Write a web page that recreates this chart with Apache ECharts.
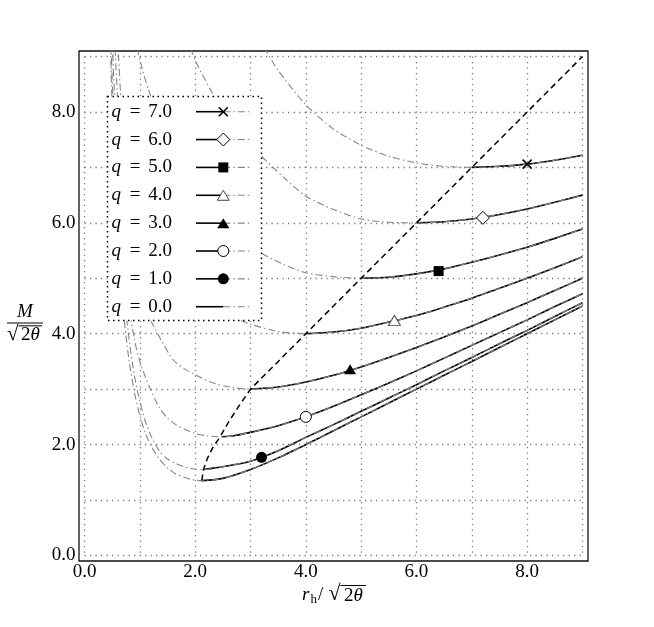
<!DOCTYPE html>
<html><head><meta charset="utf-8">
<script src="https://cdn.jsdelivr.net/npm/echarts@6/dist/echarts.min.js"></script>
<style>html,body{margin:0;padding:0;background:#fff}#c{width:654px;height:627px}</style>
</head><body><div id="c"></div><script>
// ---------------- data ----------------
const qValues = [7, 6, 5, 4, 3, 2, 1, 0];
const curveQ7 = [[3.25,9.16],[3.5,8.75],[4.0,8.13],[4.5,7.69],[5.0,7.4],[5.5,7.2],[6.0,7.08],[6.5,7.02],[7.0,7.0],[7.5,7.02],[8.0,7.06],[8.5,7.13],[9.0,7.22]];
const curveQ6 = [[1.92,9.15],[2.0,8.93],[2.3,8.36],[2.7,7.75],[3.2,7.2],[3.6,6.82],[4.0,6.48],[4.5,6.24],[5.0,6.07],[5.5,6.01],[6.0,6.0],[6.5,6.02],[7.0,6.07],[7.5,6.15],[8.0,6.25],[8.5,6.37],[9.0,6.5]];
const curveQ5 = [[0.95,9.15],[1.05,8.75],[1.15,8.42],[1.4,7.75],[1.8,6.95],[2.2,6.35],[2.7,5.8],[3.2,5.45],[3.6,5.25],[4.0,5.1],[4.5,5.03],[5.0,5.0],[5.5,5.02],[6.0,5.08],[6.5,5.17],[7.0,5.29],[7.5,5.42],[8.0,5.56],[8.5,5.72],[9.0,5.89]];
const curveQ4 = [[0.6,9.3],[0.66,8.2],[0.75,7.3],[0.9,6.4],[1.1,5.7],[1.4,5.1],[1.8,4.7],[2.2,4.45],[2.5,4.33],[2.8,4.25],[3.0,4.17],[3.5,4.04],[4.0,4.0],[4.5,4.03],[5.0,4.1],[5.5,4.21],[6.0,4.33],[6.5,4.48],[7.0,4.64],[7.5,4.82],[8.0,5.0],[8.5,5.19],[9.0,5.39]];
const curveQ3 = [[0.54,9.4],[0.6,8.2],[0.7,6.9],[0.8,6.0],[0.9,5.3],[1.0,4.8],[1.1,4.45],[1.21,4.21],[1.4,3.86],[1.6,3.53],[1.8,3.37],[2.0,3.26],[2.25,3.14],[2.5,3.06],[2.75,3.02],[3.0,3.0],[3.5,3.04],[4.0,3.13],[4.5,3.25],[5.0,3.4],[5.5,3.57],[6.0,3.75],[6.5,3.94],[7.0,4.14],[7.5,4.35],[8.0,4.56],[8.5,4.78],[9.0,5.0]];
const curveQ2 = [[0.5,9.3],[0.55,8.1],[0.6,7.1],[0.7,5.6],[0.8,4.55],[0.9,3.9],[1.0,3.5],[1.1,3.22],[1.2,2.98],[1.35,2.67],[1.5,2.48],[1.65,2.36],[1.8,2.28],[2.0,2.2],[2.2,2.16],[2.48,2.14],[2.7,2.16],[3.0,2.22],[3.5,2.34],[4.0,2.5],[4.5,2.69],[5.0,2.9],[5.5,3.11],[6.0,3.33],[6.5,3.56],[7.0,3.79],[7.5,4.02],[8.0,4.25],[8.5,4.49],[9.0,4.72]];
const curveQ1 = [[0.47,9.5],[0.5,8.6],[0.6,6.25],[0.7,4.9],[0.8,3.95],[0.9,3.25],[1.0,2.78],[1.1,2.42],[1.2,2.16],[1.35,1.89],[1.5,1.74],[1.65,1.66],[1.8,1.6],[1.95,1.565],[2.15,1.55],[2.5,1.6],[3.0,1.70],[3.5,1.89],[4.0,2.13],[4.5,2.36],[5.0,2.6],[5.5,2.84],[6.0,3.08],[6.5,3.33],[7.0,3.57],[7.5,3.82],[8.0,4.06],[8.5,4.31],[9.0,4.56]];
const curveQ0 = [[0.46,9.45],[0.5,8.09],[0.6,5.81],[0.7,4.44],[0.8,3.55],[0.9,2.95],[1.0,2.52],[1.1,2.21],[1.2,1.98],[1.35,1.74],[1.5,1.58],[1.65,1.47],[1.8,1.41],[1.95,1.365],[2.12,1.35],[2.5,1.39],[3.0,1.55],[3.5,1.76],[4.0,2.0],[4.5,2.25],[5.0,2.5],[5.5,2.75],[6.0,3.0],[6.5,3.25],[7.0,3.5],[7.5,3.75],[8.0,4.0],[8.5,4.25],[9.0,4.5]];
// start of the solid (stable) branch of each curve, r_h at the minimum
const minR = [7.0, 6.0, 5.0, 4.0, 3.0, 2.48, 2.15, 2.12];
// one marker per curve
const markerX = [8.0, 7.2, 6.4, 5.6, 4.8, 4.0, 3.2, null];
const markerY = [7.06, 6.09, 5.13, 4.24, 3.36, 2.5, 1.77, null];
// dashed locus of minima
const minimaLocus = [[2.12,1.35],[2.15,1.55],[2.22,1.75],[2.32,1.95],[2.45,2.14],[2.6,2.4],[2.78,2.68],[3.0,3.0],[4.0,4.0],[5.0,5.0],[6.0,6.0],[7.0,7.0],[8.0,8.0],[9.0,9.0]];
const labeledTicks = [0, 2, 4, 6, 8];

// ---------------- style ----------------
const curves = [curveQ7, curveQ6, curveQ5, curveQ4, curveQ3, curveQ2, curveQ1, curveQ0];
const FONT = '"Liberation Serif", "DejaVu Serif", serif';
const GRAY = '#858585';
const DASHDOT = [7, 3, 1.5, 3];
const markerSpec = [
  {symbol: 'path://M0,0L10,10M10,0L0,10', size: 9, fill: 'transparent', stroke: '#000', lw: 1.6},
  {symbol: 'diamond', size: [13, 13], fill: '#fff', stroke: '#000', lw: 1},
  {symbol: 'rect', size: 10, fill: '#000', stroke: '#000', lw: 0},
  {symbol: 'triangle', size: [12, 10], fill: '#fff', stroke: '#444', lw: 1},
  {symbol: 'triangle', size: [12, 10], fill: '#000', stroke: '#000', lw: 0},
  {symbol: 'circle', size: 11, fill: '#fff', stroke: '#000', lw: 1},
  {symbol: 'circle', size: 11, fill: '#000', stroke: '#000', lw: 0},
  null
];

const series = [];
curves.forEach((c, i) => {
  series.push({type: 'line', xAxisIndex: 0, yAxisIndex: 0, data: c.filter(p => p[0] >= minR[i] - 1e-6),
    smooth: 0.25, symbol: 'none', silent: true, lineStyle: {color: '#000', width: 1.6}, z: 3});
  series.push({type: 'line', xAxisIndex: 0, yAxisIndex: 0, data: c,
    smooth: 0.25, symbol: 'none', silent: true, lineStyle: {color: GRAY, width: 1.1, type: DASHDOT}, z: 4});
});
series.push({type: 'line', xAxisIndex: 0, yAxisIndex: 0, data: minimaLocus, symbol: 'none', silent: true,
  lineStyle: {color: '#000', width: 1.5, type: [6, 4]}, z: 5});
qValues.forEach((q, i) => {
  const m = markerSpec[i];
  if (!m || markerX[i] == null) return;
  series.push({type: 'scatter', xAxisIndex: 0, yAxisIndex: 0, data: [[markerX[i], markerY[i]]],
    symbol: m.symbol, symbolSize: m.size, silent: true, z: 6,
    itemStyle: {color: m.fill, borderColor: m.stroke, borderWidth: m.lw, opacity: 1}});
});

// ---------------- graphic: legend and axis titles ----------------
const graphic = [];
graphic.push({type: 'rect', z: 100, shape: {x: 107.5, y: 96.5, width: 154, height: 224},
  style: {fill: '#fff', stroke: '#000', lineWidth: 1.5, lineDash: [1.5, 3.5]}});
function txt(x, y, text, size, opts) {
  opts = opts || {};
  return {type: 'text', z: 101, x: x, y: y, style: {
    text: text, font: (opts.italic ? 'italic ' : '') + size + 'px ' + FONT, fill: '#000',
    align: opts.align || 'left', verticalAlign: opts.va || 'middle',
    textAlign: opts.align || 'left', textVerticalAlign: opts.va || 'middle'}};
}
function legendMarker(i, cx, cy) {
  const m = markerSpec[i];
  if (!m) return null;
  const w = Array.isArray(m.size) ? m.size[0] : m.size;
  const h = Array.isArray(m.size) ? m.size[1] : m.size;
  const st = {fill: m.fill === 'transparent' ? 'none' : m.fill, stroke: m.lw ? m.stroke : null, lineWidth: m.lw};
  if (m.symbol === 'circle') return {type: 'circle', z: 103, shape: {cx: cx, cy: cy, r: w / 2}, style: st};
  if (m.symbol === 'rect') return {type: 'rect', z: 103, shape: {x: cx - w / 2, y: cy - h / 2, width: w, height: h}, style: st};
  if (m.symbol === 'diamond') return {type: 'polygon', z: 103, shape: {points: [[cx, cy - h / 2], [cx + w / 2, cy], [cx, cy + h / 2], [cx - w / 2, cy]]}, style: st};
  if (m.symbol === 'triangle') return {type: 'polygon', z: 103, shape: {points: [[cx, cy - h / 2], [cx + w / 2, cy + h / 2], [cx - w / 2, cy + h / 2]]}, style: st};
  return {type: 'group', z: 103, children: [
    {type: 'line', z: 103, shape: {x1: cx - w / 2, y1: cy - h / 2, x2: cx + w / 2, y2: cy + h / 2}, style: {stroke: '#000', lineWidth: 1.6}},
    {type: 'line', z: 103, shape: {x1: cx + w / 2, y1: cy - h / 2, x2: cx - w / 2, y2: cy + h / 2}, style: {stroke: '#000', lineWidth: 1.6}}]};
}
qValues.forEach((q, i) => {
  const y = 111.7 + i * 27.86;
  graphic.push(txt(111.5, y, 'q', 19, {italic: true}));
  graphic.push(txt(135, y, '=', 19, {align: 'center'}));
  graphic.push(txt(148.3, y, q.toFixed(1), 19));
  graphic.push({type: 'line', z: 102, shape: {x1: 196, y1: y, x2: 223.3, y2: y}, style: {stroke: '#000', lineWidth: 1.6}});
  graphic.push({type: 'line', z: 102, shape: {x1: 223.3, y1: y, x2: 252, y2: y}, style: {stroke: GRAY, lineWidth: 1.1, lineDash: DASHDOT}});
  const mk = legendMarker(i, 223.3, y);
  if (mk) graphic.push(mk);
});
// y-axis title  M / sqrt(2 theta)
graphic.push(txt(25, 312, 'M', 19, {italic: true, align: 'center'}));
graphic.push({type: 'line', z: 101, shape: {x1: 7, y1: 323, x2: 43, y2: 323}, style: {stroke: '#000', lineWidth: 1}});
graphic.push(txt(7, 334, '\u221A', 21));
graphic.push(txt(21, 335, '2', 19));
graphic.push(txt(30.5, 335, '\u03B8', 19, {italic: true}));
graphic.push({type: 'line', z: 101, shape: {x1: 18.5, y1: 325.8, x2: 42, y2: 325.8}, style: {stroke: '#000', lineWidth: 1}});
// x-axis title  r_h / sqrt(2 theta)
graphic.push(txt(302, 595, 'r', 19, {italic: true}));
graphic.push(txt(310.5, 600, 'h', 13));
graphic.push(txt(318, 595, '/', 19));
graphic.push(txt(328.5, 594, '\u221A', 22));
graphic.push(txt(344, 596, '2', 19));
graphic.push(txt(353.5, 596, '\u03B8', 19, {italic: true}));
graphic.push({type: 'line', z: 101, shape: {x1: 340.5, y1: 585.5, x2: 366, y2: 585.5}, style: {stroke: '#000', lineWidth: 1}});

const gridLine = {show: true, lineStyle: {color: '#7a7a7a', width: 1.3, type: [1.3, 4.2]}};
const labelFmt = v => (labeledTicks.indexOf(Math.round(v)) >= 0 && Math.abs(v - Math.round(v)) < 1e-9) ? v.toFixed(1) : '';

const option = {
  animation: false,
  backgroundColor: '#fff',
  grid: [
    {left: 79, right: 66, top: 51, bottom: 66, show: true, borderColor: '#111', borderWidth: 1.3, backgroundColor: 'transparent', containLabel: false, outerBoundsMode: 'none'},
    {left: 84.53, right: 71.53, top: 56.54, bottom: 71.54, show: false, containLabel: false, outerBoundsMode: 'none'}
  ],
  xAxis: [
    {gridIndex: 0, type: 'value', min: -0.1, max: 9.1, show: false},
    {gridIndex: 1, type: 'value', min: 0, max: 9, interval: 1, axisLine: {show: false}, axisTick: {show: false},
      splitLine: gridLine, axisLabel: {formatter: labelFmt, fontFamily: FONT, fontSize: 19, color: '#000', margin: 7, showMinLabel: true, showMaxLabel: true}}
  ],
  yAxis: [
    {gridIndex: 0, type: 'value', min: -0.1, max: 9.1, show: false},
    {gridIndex: 1, type: 'value', min: 0, max: 9, interval: 1, axisLine: {show: false}, axisTick: {show: false},
      splitLine: gridLine, axisLabel: {formatter: labelFmt, fontFamily: FONT, fontSize: 19, color: '#000', margin: 9, showMinLabel: true, showMaxLabel: true}}
  ],
  series: series,
  graphic: graphic
};
const chart = echarts.init(document.getElementById('c'));
chart.setOption(option);
</script></body></html>
